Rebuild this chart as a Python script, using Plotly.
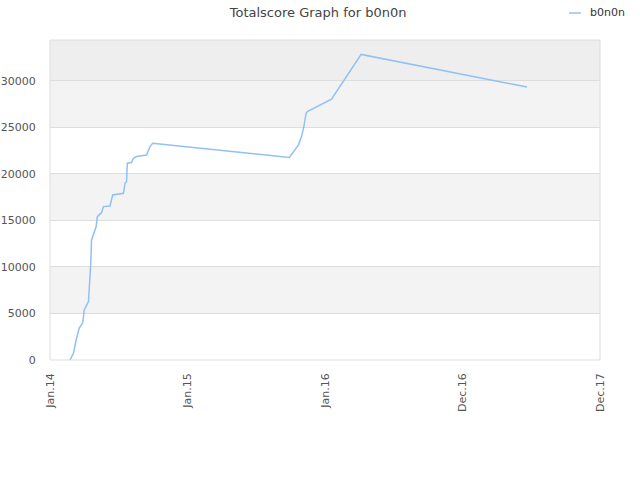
import plotly.graph_objects as go

dates = ["2014-02-22", "2014-03-03", "2014-03-10", "2014-03-18", "2014-03-27", "2014-03-31",
         "2014-04-11", "2014-04-13", "2014-04-17", "2014-04-19", "2014-04-24", "2014-05-01",
         "2014-05-04", "2014-05-15", "2014-05-20", "2014-06-06", "2014-06-13", "2014-07-11",
         "2014-07-15", "2014-07-19", "2014-07-21", "2014-08-01", "2014-08-06", "2014-08-14",
         "2014-09-09", "2014-09-18", "2014-09-25", "2015-09-15", "2015-10-09", "2015-10-17",
         "2015-10-23", "2015-10-29", "2015-11-01", "2016-01-03", "2016-03-20", "2017-05-25"]
scores = [0, 720, 2150, 3440, 3980, 5380,
          6270, 7340, 10430, 12900, 13620, 14340,
          15410, 15840, 16490, 16560, 17740, 17920,
          19000, 19170, 21150, 21220, 21690, 21870,
          22040, 22940, 23300, 21770, 23130, 24020,
          25100, 26530, 26700, 28030, 32850, 29350]

tick_dates = ["2014-01-01", "2014-12-24 12:00", "2015-12-17", "2016-12-08 12:00", "2017-12-01"]
tick_labels = ["Jan.14", "Jan.15", "Jan.16", "Dec.16", "Dec.17"]
y_ticks = [0, 5000, 10000, 15000, 20000, 25000, 30000]
y_max = 34400
series_name = "b0n0n"
line_color = "#90c0f5"

fig = go.Figure()
fig.add_trace(go.Scatter(x=dates, y=scores, mode="lines", name=series_name, showlegend=False,
                         line=dict(color=line_color, width=1.5)))

shapes = []
bands = [(5000, 10000, "#f3f3f3"), (15000, 20000, "#f3f3f3"), (25000, 30000, "#f3f3f3"), (30000, y_max, "#eeeeee")]
for y0, y1, c in bands:
    shapes.append(dict(type="rect", xref="paper", yref="y", x0=0, x1=1, y0=y0, y1=y1,
                       fillcolor=c, line_width=0, layer="below"))
shapes.append(dict(type="rect", xref="paper", yref="paper", x0=0, x1=1, y0=0, y1=1,
                   line=dict(color="#dddddd", width=1), fillcolor="rgba(0,0,0,0)"))
# legend key
shapes.append(dict(type="line", xref="paper", yref="paper", x0=519 / 550, x1=531 / 550,
                   y0=1 + 27 / 320, y1=1 + 27 / 320, line=dict(color=line_color, width=1.5)))

fig.update_layout(
    width=640, height=480,
    margin=dict(l=50, r=40, t=40, b=120, autoexpand=False),
    paper_bgcolor="white", plot_bgcolor="white",
    font=dict(family="DejaVu Sans", size=11, color="#555555"),
    title=dict(text="Totalscore Graph for b0n0n", x=0.497, xanchor="center", y=0.975,
               yanchor="middle", font=dict(size=13, color="#444444")),
    showlegend=False,
    annotations=[dict(text=series_name, xref="paper", yref="paper", x=538 / 550, y=1 + 27 / 320,
                      xanchor="left", yanchor="middle", showarrow=False,
                      font=dict(size=11, color="#333333"))],
    shapes=shapes,
    xaxis=dict(type="date", range=["2014-01-01", "2017-12-01"], tickvals=tick_dates,
               ticktext=tick_labels, tickangle=-90, showgrid=False, zeroline=False,
               showline=False, ticks="", ticklabelstandoff=10, automargin=False),
    yaxis=dict(range=[0, y_max], tickvals=y_ticks,
               ticktext=[str(v) + "\u00a0\u00a0" for v in y_ticks],
               showgrid=True, gridcolor="#dddddd", zeroline=False, showline=False,
               ticks="outside", ticklen=4, tickcolor="rgba(0,0,0,0)", automargin=False),
)
fig.write_html("out.html", config={"displayModeBar": False},
               post_script="document.body.style.margin='0';")
